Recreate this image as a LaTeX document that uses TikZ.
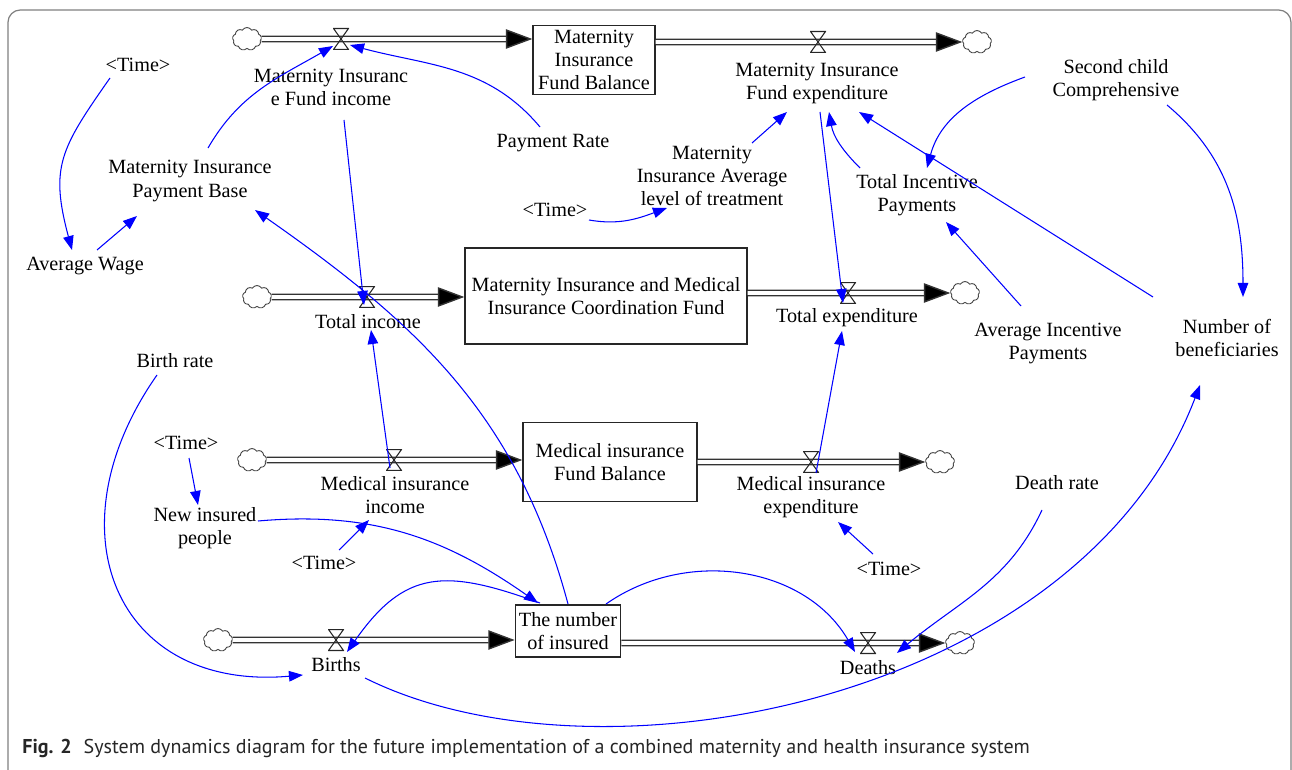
\documentclass[tikz,border=0pt]{standalone}
\usepackage{fontspec}
\setmainfont{Liberation Serif}
\newfontfamily\capfont{PT Sans}
\usetikzlibrary{arrows.meta,shapes.symbols,calc}
\tikzset{
var/.style={align=center, inner sep=1pt, font=\rmfamily\fontsize{11.5}{13.1}\selectfont}, % names of the variables
stock/.style={var, draw=black!85, line width=0.8pt, inner sep=2pt}, % the level boxes
pipe/.style={draw=black!80, line width=0.8pt, double=white, double distance=2.2pt, -{Triangle[length=15pt,width=11pt,fill=black]}}, % flows
sink/.style={cloud, draw=black!75, line width=0.5pt, cloud puffs=9, cloud puff arc=120, aspect=1.3, minimum width=0.58cm, minimum height=0.46cm, inner sep=0pt}, % sources and sinks
valve/.style={minimum width=0.32cm, minimum height=0.44cm, inner sep=0pt,
  path picture={\draw[black!85, line width=0.6pt]
    ($(path picture bounding box.north west)+(0.3pt,-0.3pt)$) -- ($(path picture bounding box.north east)+(-0.3pt,-0.3pt)$)
    -- ($(path picture bounding box.south west)+(0.3pt,0.3pt)$) -- ($(path picture bounding box.south east)+(-0.3pt,0.3pt)$) -- cycle;}}, % flow valves
link/.style={blue, line width=0.6pt, -{Triangle[length=8pt,width=6pt]}}, % causal links
}

\begin{document}
\begin{tikzpicture}[x=0.02cm, y=-0.02cm]
\useasboundingbox (0,0) rectangle (1292,770);
\draw[black!50, line width=0.7pt, rounded corners=7pt] (8,10) rectangle (1291,790);

% stocks
\node[stock, minimum width=2.44cm, minimum height=1.38cm] (fundMI) at (594,60) {Maternity\\Insurance\\Fund Balance};
\node[stock, minimum width=5.64cm, minimum height=1.92cm] (fundCo) at (606,296) {Maternity Insurance and Medical\\Insurance Coordination Fund};
\node[stock, minimum width=3.48cm, minimum height=1.58cm] (fundMed) at (610,462) {Medical insurance\\Fund Balance};
\node[stock, minimum width=2.08cm, minimum height=1.04cm] (insured) at (568,631) {The number\\of insured};

% clouds
\node[sink] (c1) at (247,39) {};
\node[sink] (c2) at (977,42) {};
\node[sink] (c3) at (257,297) {};
\node[sink] (c4) at (965,293) {};
\node[sink] (c5) at (252,460) {};
\node[sink] (c6) at (940,462) {};
\node[sink] (c7) at (218,640) {};
\node[sink] (c8) at (960,643) {};

% pipes
\draw[pipe] (c1) -- (c1 -| fundMI.west);
\draw[pipe] (fundMI.east |- c2) -- (c2);
\draw[pipe] (c3) -- (c3 -| fundCo.west);
\draw[pipe] (fundCo.east |- c4) -- (c4);
\draw[pipe] (c5) -- (c5 -| fundMed.west);
\draw[pipe] (fundMed.east |- c6) -- (c6);
\draw[pipe] (c7) -- (c7 -| insured.west);
\draw[pipe] (insured.east |- c8) -- (c8);

% valves
\node[valve] (vMIin) at (341,39) {};
\node[valve] (vMIout) at (818,42) {};
\node[valve] (vTotIn) at (367,297) {};
\node[valve] (vTotOut) at (848,293) {};
\node[valve] (vMedIn) at (394,460) {};
\node[valve] (vMedOut) at (811,462) {};
\node[valve] (vBirths) at (336,640) {};
\node[valve] (vDeaths) at (868,643) {};

% flow names
\node[var] (lMIin) at (331,87) {Maternity Insuranc\\e Fund income};
\node[var] (lMIout) at (817,83) {Maternity Insurance\\Fund expenditure};
\node[var] (lTotIn) at (368,322) {Total income};
\node[var] (lTotOut) at (847,318) {Total expenditure};
\node[var] (lMedIn) at (395,495) {Medical insurance\\income};
\node[var] (lMedOut) at (811,497) {Medical insurance\\expenditure};
\node[var] (lBirths) at (336,665) {Births};
\node[var] (lDeaths) at (868,668) {Deaths};

% auxiliaries
\node[var] (time1) at (138,65) {<Time>};
\node[var] (payBase) at (190,181) {Maternity Insurance\\Payment Base};
\node[var] (avgWage) at (85,266) {Average Wage};
\node[var] (payRate) at (553,143) {Payment Rate};
\node[var] (avgTreat) at (712,176) {Maternity\\Insurance Average\\level of treatment};
\node[var] (time2) at (555,210) {<Time>};
\node[var] (second) at (1116,80) {Second child\\Comprehensive};
\node[var] (totIncent) at (917,195) {Total Incentive\\Payments};
\node[var] (avgIncent) at (1048,343) {Average Incentive\\Payments};
\node[var] (benef) at (1227,338) {Number of\\beneficiaries};
\node[var] (birthRate) at (175,361) {Birth rate};
\node[var] (time3) at (186,443) {<Time>};
\node[var] (newIns) at (205,528) {New insured\\people};
\node[var] (time4) at (324,563) {<Time>};
\node[var] (deathRate) at (1057,483) {Death rate};
\node[var] (time5) at (889,569) {<Time>};

% causal links
\draw[link] ([shift={(-28,13)}]time1.center) to[out=235,in=105,looseness=1.25] ([shift={(-13,-16)}]avgWage.center);
\draw[link] ([shift={(12,-16)}]avgWage.center) -- ([shift={(-53,35)}]payBase.center);
\draw[link] ([shift={(18,-33)}]payBase.center) to[out=60,in=210] ([shift={(-8,7)}]vMIin.center);
\draw[link] ([shift={(-13,-16)}]payRate.center) to[out=130,in=-15] ([shift={(9,6)}]vMIin.center);
\draw[link] ([shift={(13,33)}]lMIin.center) -- ([shift={(-3,8)}]vTotIn.center);
\draw[link] ([shift={(0,-27)}]insured.center) to[out=105,in=-35] ([shift={(65,29)}]payBase.center);
\draw[link] ([shift={(40,-33)}]avgTreat.center) -- ([shift={(-30,29)}]lMIout.center);
\draw[link] ([shift={(34,10)}]time2.center) to[out=-10,in=200] ([shift={(-45,32)}]avgTreat.center);
\draw[link] ([shift={(3,29)}]lMIout.center) -- ([shift={(-5,10)}]vTotOut.center);
\draw[link] ([shift={(-57,-27)}]totIncent.center) to[out=135,in=-80] ([shift={(12,29)}]lMIout.center);
\draw[link] ([shift={(-91,-3)}]second.center) to[out=200,in=75] ([shift={(10,-27)}]totIncent.center);
\draw[link] ([shift={(51,25)}]second.center) to[out=-40,in=90] ([shift={(16,-41)}]benef.center);
\draw[link] ([shift={(-74,-41)}]benef.center) -- ([shift={(42,29)}]lMIout.center);
\draw[link] ([shift={(-27,-37)}]avgIncent.center) -- ([shift={(29,27)}]totIncent.center);
\draw[link] ([shift={(-4,8)}]vMedIn.center) -- ([shift={(3,8)}]lTotIn.center);
\draw[link] ([shift={(5,11)}]vMedOut.center) -- ([shift={(-5,13)}]lTotOut.center);
\draw[link] ([shift={(-16,-15)}]time5.center) -- ([shift={(27,25)}]lMedOut.center);
\draw[link] ([shift={(15,-13)}]time4.center) -- ([shift={(-26,25)}]lMedIn.center);
\draw[link] ([shift={(3,15)}]time3.center) -- ([shift={(-7,-23)}]newIns.center);
\draw[link] ([shift={(53,-7)}]newIns.center) to[out=5,in=145] ([shift={(-30,-28)}]insured.center);
\draw[link] ([shift={(-28,-28)}]insured.center) to[out=160,in=55,looseness=1.3] ([shift={(11,12)}]vBirths.center);
\draw[link] ([shift={(38,-27)}]insured.center) to[out=35,in=120] ([shift={(-13,9)}]vDeaths.center);
\draw[link] ([shift={(-15,27)}]deathRate.center) to[out=245,in=40] ([shift={(29,10)}]vDeaths.center);
\draw[link] ([shift={(29,13)}]lBirths.center) .. controls (600,795) and (1080,700) .. ([shift={(-27,47)}]benef.center);
\draw[link] ([shift={(-18,14)}]birthRate.center) to[out=235,in=185,looseness=1.45] ([shift={(-33,10)}]lBirths.center);

% caption
\node[anchor=west, inner sep=0pt, text=black!85, font=\capfont\fontsize{11.4}{13}\selectfont] (caption) at (22,748) {\textbf{Fig. 2}\hspace{0.6em}System dynamics diagram for the future implementation of a combined maternity and health insurance system};
\end{tikzpicture}
\end{document}
